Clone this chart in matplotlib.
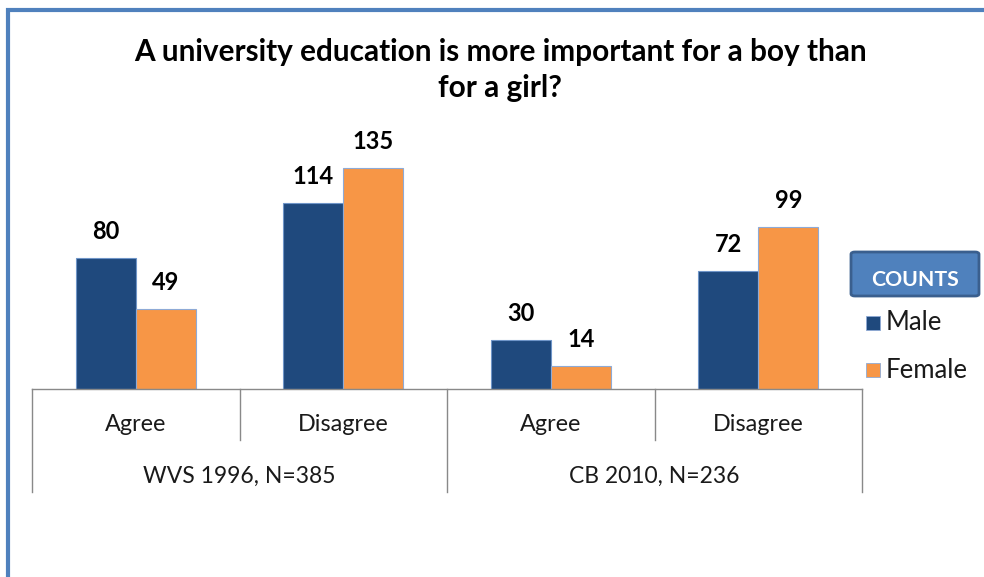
import matplotlib
matplotlib.use('Agg')
import matplotlib.pyplot as plt
import matplotlib.patches as mpatches
import numpy as np

# data
groups = ['WVS 1996, N=385', 'CB 2010, N=236']
answers = ['Agree', 'Disagree', 'Agree', 'Disagree']
male = [80, 114, 30, 72]
female = [49, 135, 14, 99]
series = ['Male', 'Female']
title = 'A university education is more important for a boy than\nfor a girl?'

W, H = 984, 577
navy = '#1F497D'
orange = '#F79646'
frame_blue = '#4F81BD'
axis_grey = '#898989'

plt.rcParams['font.family'] = ['Lato', 'DejaVu Sans']

def fx(x): return x / W
def fy(y): return 1 - y / H

fig = plt.figure(figsize=(W / 100, H / 100), dpi=100)

# plot area: baseline at y=389, category band x 32..862
ax = fig.add_axes([fx(32), fy(389), (862 - 32) / W, 261.6 / H])
x = np.arange(len(answers))
bw = 0.29
b1 = ax.bar(x - bw / 2, male, bw, color=navy, edgecolor='#6f95c8', linewidth=0.8, label=series[0])
b2 = ax.bar(x + bw / 2, female, bw, color=orange, edgecolor='#8eaad6', linewidth=0.8, label=series[1])
ax.set_xlim(-0.5, len(answers) - 0.5)
ax.set_ylim(0, 160)
ax.axis('off')

for bars, vals in ((b1, male), (b2, female)):
    for r, v in zip(bars, vals):
        ax.annotate(str(v), (r.get_x() + r.get_width() / 2, v), xytext=(0, 19),
                    textcoords='offset points', ha='center', va='center',
                    fontsize=17, fontweight='bold', color='black')

# two-level category axis
tr = ax.get_xaxis_transform()
ax.plot([-0.5, len(answers) - 0.5], [0, 0], color=axis_grey, lw=1, transform=tr, clip_on=False)
for i in range(len(answers) + 1):
    xb = i - 0.5
    depth = -0.394 if i % 2 == 0 else -0.195
    ax.plot([xb, xb], [0, depth], color=axis_grey, lw=1, transform=tr, clip_on=False)
for i, a in enumerate(answers):
    ax.text(i, -0.1376, a, transform=tr, ha='center', va='center', fontsize=16.8, color='#1a1a1a')
for g, name in enumerate(groups):
    ax.text(2 * g + 0.5, -0.3326, name, transform=tr, ha='center', va='center', fontsize=16.5, color='#1a1a1a')

fig.text(fx(500), fy(70), title, ha='center', va='center', fontsize=21.4,
         fontweight='bold', linespacing=1.35)

# legend
box = mpatches.FancyBboxPatch((fx(851), fy(296)), (979 - 851) / W, 44 / H,
                              boxstyle='round,pad=0,rounding_size=0.004',
                              transform=fig.transFigure, facecolor=frame_blue,
                              edgecolor='#3A5F8E', linewidth=2)
fig.add_artist(box)
fig.text(fx(915), fy(280), 'COUNTS', ha='center', va='center', color='white',
         fontsize=15.3, fontweight='bold')
for k, (name, col) in enumerate(zip(series, [navy, orange])):
    yc = 323 + k * 47
    fig.add_artist(mpatches.Rectangle((fx(866), fy(yc + 7)), 14 / W, 14 / H,
                                      transform=fig.transFigure, facecolor=col,
                                      edgecolor='#8eaad6', linewidth=0.6))
    fig.text(fx(886), fy(yc), name, ha='left', va='center', fontsize=18.5, color='#1a1a1a')

# outer frame (left and top edges visible)
fig.add_artist(mpatches.Rectangle((fx(8), -0.2), 2, fy(10) + 0.2, transform=fig.transFigure,
                                  fill=False, edgecolor=frame_blue, linewidth=3))

fig.savefig('out.png', dpi=100, facecolor='white')
